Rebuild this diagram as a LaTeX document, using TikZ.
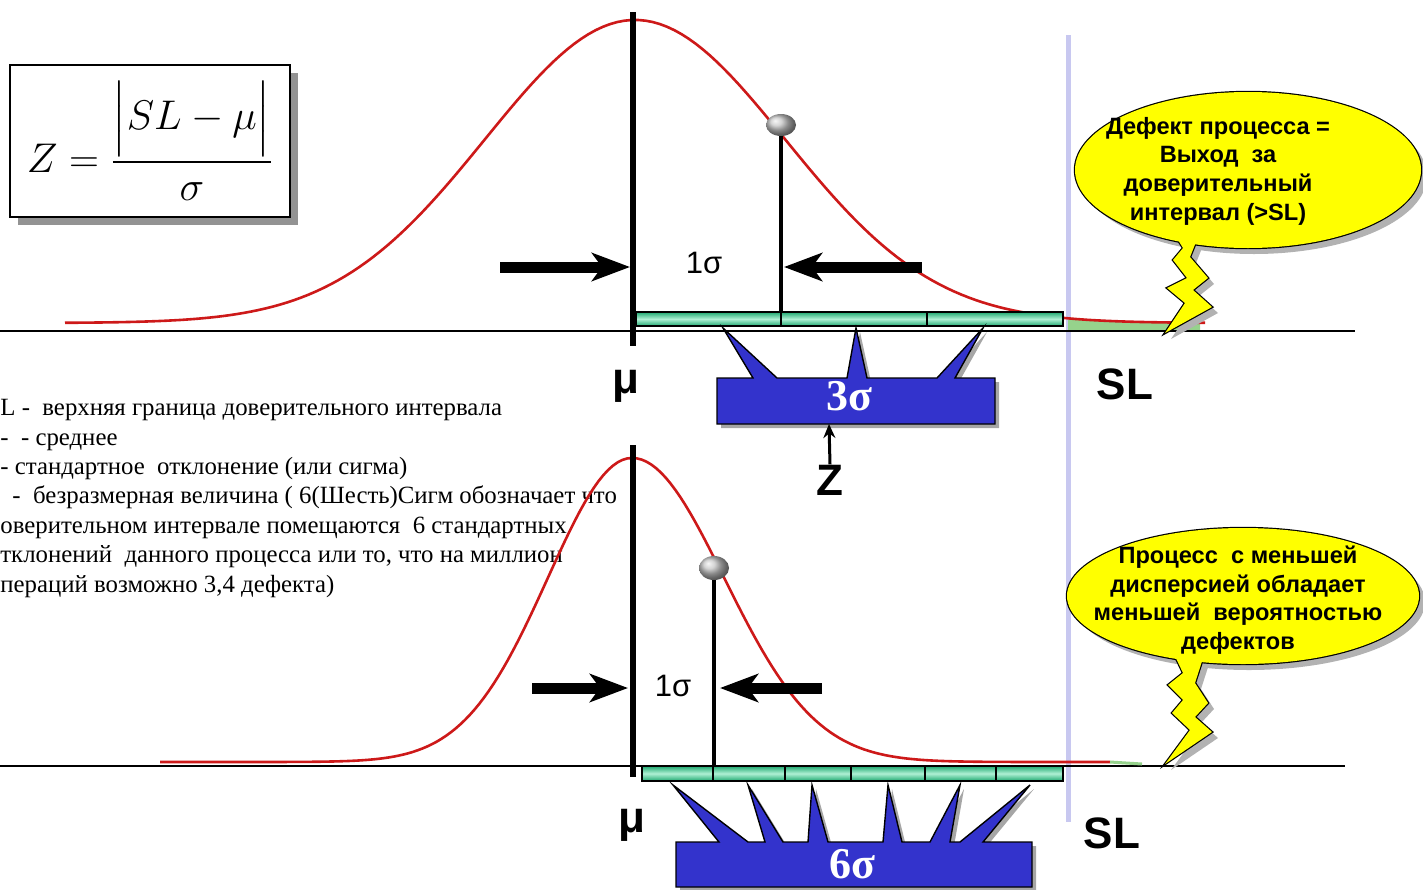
\documentclass[tikz,border=0pt]{standalone}
\usepackage{amsmath}
\usepackage{fontspec}
\setmainfont{Liberation Serif}
\setsansfont{Liberation Sans}
\usepackage{tikz}
\usetikzlibrary{positioning, arrows.meta, shapes.geometric, shadows}
\definecolor{curvered}{RGB}{205,25,25}
\definecolor{barblue}{RGB}{51,51,204}
\definecolor{slline}{RGB}{200,200,240}
\definecolor{bargreen}{RGB}{30,168,112}
\definecolor{barlight}{RGB}{175,240,212}
\definecolor{tailgreen}{RGB}{150,210,140}
\definecolor{bubbleyellow}{RGB}{255,255,0}

\newcommand{\defecttail}{(1173,232) -- (1183,248) -- (1173,260) -- (1187,278) -- (1167,288) -- (1185,303) -- (1165,333) -- (1212,307) -- (1193,290) -- (1208,278) -- (1190,257) -- (1200,232) -- cycle}
\newcommand{\dispersiontail}{(1173,652) -- (1183,673) -- (1168,685) -- (1183,700) -- (1172,713) -- (1190,730) -- (1165,764) -- (1212,732) -- (1195,717) -- (1208,703) -- (1195,683) -- (1205,652) -- cycle}

\begin{document}
\begin{tikzpicture}[x=0.5pt, y=-0.5pt,
    axis/.style={draw=black, line width=0.8pt},
    gauss/.style={draw=curvered, line width=1.3pt},
    meanline/.style={line width=2.6pt},
    stem/.style={line width=2.3pt},
    fatarrow/.style={-{Stealth[length=19pt, width=14pt, inset=5pt]}, line width=5.5pt},
    seg/.style={draw=black, line width=0.7pt, top color=bargreen, bottom color=bargreen, middle color=barlight},
    knob/.style={ellipse, ball color=gray!45, minimum width=15pt, minimum height=11pt, inner sep=0pt},
    bluebox/.style={fill=barblue, draw=black, line width=0.7pt},
    bubbletext/.style={align=center, inner sep=0pt, font=\sffamily\bfseries\fontsize{11.8}{14.3}\selectfont},
    biglabel/.style={inner sep=0pt, font=\sffamily\bfseries\fontsize{22}{24}\selectfont},
    siglabel/.style={inner sep=0pt, font=\sffamily\fontsize{15.5}{17}\selectfont},
    boxlabel/.style={inner sep=0pt, text=white, font=\bfseries\fontsize{22}{24}\selectfont}
]
    \useasboundingbox (0,0) rectangle (1423,889);

    \node[anchor=north west, align=left, inner sep=0pt, font=\fontsize{12.4}{14.7}\selectfont] (legend) at (0,399)
        {L -\ \ верхняя граница доверительного интервала\\
         -\ \ - среднее\\
         - стандартное\ \ отклонение (или сигма)\\
         \hspace*{6pt}-\ \ безразмерная величина ( 6(Шесть)Сигм обозначает что\\
         оверительном интервале помещаются\ \ 6 стандартных\\
         тклонений\ \ данного процесса или то, что на миллион\\
         пераций возможно 3,4 дефекта)};

    \node[draw=black, line width=0.8pt, fill=white, minimum width=140pt, minimum height=76pt, inner sep=2pt,
          drop shadow={shadow xshift=4pt, shadow yshift=-4pt, fill=gray!85, opacity=1}] (zformula) at (150,141)
        {\fontsize{22}{26}\selectfont $Z=\dfrac{\Bigl|SL-\mu\Bigr|}{\sigma}$};

    \coordinate (sltop) at (1068,35);
    \coordinate (slbottom) at (1068,822);
    \draw[slline, line width=2.5pt] (sltop) -- (slbottom);

    % upper process
    \fill[tailgreen] (1068,331) -- plot[domain=1068:1200, samples=20] (\x, {323-303*exp(-0.5*((\x-635)/150)^2)}) -- (1200,331) -- cycle;
    \coordinate (axisAleft) at (0,331);
    \coordinate (axisAright) at (1355,331);
    \draw[axis] (axisAleft) -- (axisAright);
    \draw[gauss] plot[domain=65:1205, samples=160] (\x, {323-303*exp(-0.5*((\x-635)/150)^2)});
    \coordinate (meanAtop) at (633,12);
    \coordinate (meanAbot) at (633,346);
    \draw[meanline] (meanAtop) -- (meanAbot);
    \foreach \a/\b in {636/781, 781/927, 927/1063}
        \path[seg] (\a,312) rectangle (\b,326);
    \node[knob] (knobA) at (781,125) {};
    \coordinate (stemAfoot) at (781,312);
    \draw[stem] (knobA.south) -- (stemAfoot);
    \coordinate (arrAltail) at (500,267);
    \coordinate (arrAltip) at (630,267);
    \coordinate (arrArtail) at (922,267);
    \coordinate (arrArtip) at (784,267);
    \draw[fatarrow] (arrAltail) -- (arrAltip);
    \draw[fatarrow] (arrArtail) -- (arrArtip);
    \node[siglabel] (sigA) at (704,263) {1σ};
    \node[biglabel] (muA) at (626,386) {μ};
    \node[biglabel] (slA) at (1125,384) {SL};

    \fill[gray!70, shift={(4,4)}] (717,378) -- (753,378) -- (723,328) -- (777,378) -- (847,378) -- (856,328) -- (867,378) -- (937,378) -- (983,328) -- (955,378) -- (995,378) -- (995,424) -- (717,424) -- cycle;
    \path[bluebox] (717,378) -- (753,378) -- (723,328) -- (777,378) -- (847,378) -- (856,328) -- (867,378) -- (937,378) -- (983,328) -- (955,378) -- (995,378) -- (995,424) -- (717,424) -- cycle;
    \node[boxlabel] (three) at (849,396) {3σ};
    \coordinate (threebot) at (829,424);
    \node[biglabel] (zlabel) at (830,480) {Z};
    \draw[-{Stealth[length=7pt, width=6pt]}, line width=1.5pt] (zlabel.north) -- (threebot);

    % lower process
    \coordinate (axisBleft) at (0,766);
    \coordinate (axisBright) at (1345,766);
    \draw[axis] (axisBleft) -- (axisBright);
    \draw[gauss] plot[domain=160:632, samples=100] (\x, {762-304*exp(-0.5*((\x-632)/84)^2)})
        -- plot[domain=632:1110, samples=100] (\x, {762-304*exp(-0.5*((\x-632)/92)^2)});
    \draw[tailgreen, line width=1.5pt] (1110,762) -- (1142,764);
    \coordinate (meanBtop) at (633,445);
    \coordinate (meanBbot) at (633,777);
    \draw[meanline] (meanBtop) -- (meanBbot);
    \foreach \a/\b in {642/713, 713/785, 785/851, 851/925, 925/996, 996/1063}
        \path[seg] (\a,766) rectangle (\b,781);
    \node[knob, minimum height=12pt] (knobB) at (714,568) {};
    \coordinate (stemBfoot) at (714,766);
    \draw[stem] (knobB.south) -- (stemBfoot);
    \coordinate (arrBltail) at (532,688);
    \coordinate (arrBltip) at (628,688);
    \coordinate (arrBrtail) at (822,688);
    \coordinate (arrBrtip) at (720,688);
    \draw[fatarrow] (arrBltail) -- (arrBltip);
    \draw[fatarrow] (arrBrtail) -- (arrBrtip);
    \node[siglabel] (sigB) at (673,686) {1σ};
    \node[biglabel] (muB) at (632,825) {μ};
    \node[biglabel] (slB) at (1112,833) {SL};

    \fill[gray!70, shift={(4,4)}] (676,842) -- (719,842) -- (673,785) -- (748,842) -- (765,842) -- (748,785) -- (783,842) -- (808,842) -- (812,785) -- (828,842) -- (883,842) -- (888,785) -- (902,842) -- (930,842) -- (960,785) -- (950,842) -- (960,842) -- (1030,785) -- (983,842) -- (1032,842) -- (1032,887) -- (676,887) -- cycle;
    \path[bluebox] (676,842) -- (719,842) -- (673,785) -- (748,842) -- (765,842) -- (748,785) -- (783,842) -- (808,842) -- (812,785) -- (828,842) -- (883,842) -- (888,785) -- (902,842) -- (930,842) -- (960,785) -- (950,842) -- (960,842) -- (1030,785) -- (983,842) -- (1032,842) -- (1032,887) -- (676,887) -- cycle;
    \node[boxlabel] (six) at (852,864) {6σ};

    % callouts
    \begin{scope}[shift={(6,6)}]
        \fill[gray!60] \defecttail;
        \fill[gray!60] (1248,170) ellipse [x radius=173, y radius=78];
        \fill[gray!60] \dispersiontail;
        \fill[gray!60] (1243,596) ellipse [x radius=176, y radius=68];
    \end{scope}
    \draw[line width=1.2pt] \defecttail;
    \draw[line width=1.2pt] (1248,170) ellipse [x radius=173, y radius=78];
    \draw[line width=1.2pt] \dispersiontail;
    \draw[line width=1.2pt] (1243,596) ellipse [x radius=176, y radius=68];
    \fill[bubbleyellow] \defecttail;
    \fill[bubbleyellow] (1248,170) ellipse [x radius=173, y radius=78];
    \fill[bubbleyellow] \dispersiontail;
    \fill[bubbleyellow] (1243,596) ellipse [x radius=176, y radius=68];
    \node[bubbletext] (defect) at (1218,171) {Дефект процесса =\\Выход\ \ за\\доверительный\\интервал (>SL)};
    \node[bubbletext] (dispersion) at (1238,600) {Процесс\ \ с меньшей\\дисперсией обладает\\меньшей\ \ вероятностью\\дефектов};
\end{tikzpicture}
\end{document}
